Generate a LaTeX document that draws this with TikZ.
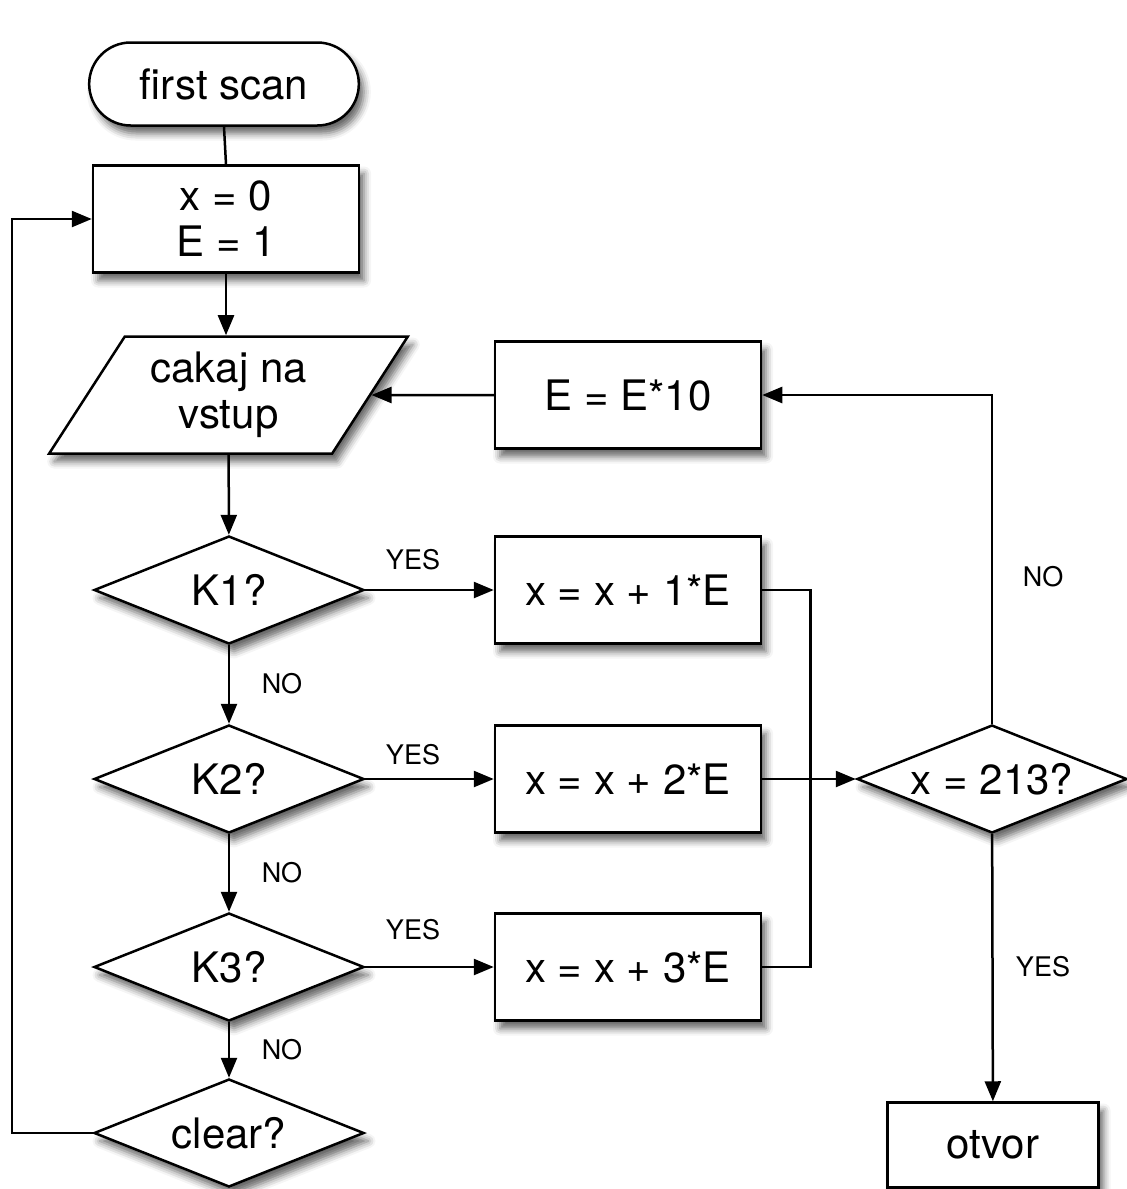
\documentclass[tikz,border=0pt]{standalone}
\usepackage{fontspec}
\setmainfont{TeX Gyre Heros}
\usetikzlibrary{shapes, shapes.geometric, shapes.misc, arrows.meta, positioning, shadows, shadows.blur, calc}

\begin{document}
\begin{tikzpicture}[x=0.5pt, y=-0.5pt,
        base/.style={draw=black, line width=1.25pt, fill=white, align=center, font=\fontsize{21}{23}\selectfont, blur shadow={shadow xshift=2.5pt, shadow yshift=-4pt, shadow blur radius=3.5pt, shadow opacity=60}},
        proc/.style={base, rectangle, minimum width=133pt, minimum height=53.5pt},
        term/.style={base, rounded rectangle, minimum width=141.5pt, minimum height=41.5pt},
        dec/.style={base, diamond, aspect=2.6, inner sep=0pt, minimum width=135pt, minimum height=54pt},
        io/.style={base, trapezium, trapezium left angle=58, trapezium right angle=122, trapezium stretches=true, minimum width=179.5pt, minimum height=58.5pt},
        flow/.style={-{Triangle[length=10pt, width=8pt]}, line width=1.25pt},
        link/.style={line width=1.25pt},
        lbl/.style={font=\fontsize{13.5}{15}\selectfont}
    ]
        \useasboundingbox (0,0) rectangle (1127,1189);

        % Left column
        \node[term] (start) at (224,84) {first scan};
        \node[proc] (init) at (226,219) {x = 0\\E = 1};
        \node[io] (input) at (228.5,395) {cakaj na\\vstup};
        \node[dec] (k1) at (229,590) {K1?};
        \node[dec] (k2) at (229,779) {K2?};
        \node[dec] (k3) at (229,967) {K3?};
        \node[dec] (clear) at (229,1133) {clear?};

        % Middle column
        \node[proc] (ebox) at (628,395) {E = E*10};
        \node[proc] (b1) at (628,590) {x = x + 1*E};
        \node[proc] (b2) at (628,779) {x = x + 2*E};
        \node[proc] (b3) at (628,967) {x = x + 3*E};

        % Right column
        \node[dec] (chk) at (992,779) {x = 213?};
        \node[proc, minimum width=105.5pt, minimum height=42.5pt] (otvor) at (993,1145) {otvor};

        % Labels
        \node[lbl] (yes1) at (413,560) {YES};
        \node[lbl] (yes2) at (413,755) {YES};
        \node[lbl] (yes3) at (413,930) {YES};
        \node[lbl] (no1) at (282,684) {NO};
        \node[lbl] (no2) at (282,873) {NO};
        \node[lbl] (no3) at (282,1050) {NO};
        \node[lbl] (no4) at (1043,577) {NO};
        \node[lbl] (yes4) at (1043,967) {YES};

        % Main flow
        \draw[link] (start.south) -- (init.north);
        \draw[flow] (init.south) -- (init.south |- input.north);
        \draw[flow] (input) -- (k1);
        \draw[flow] (k1) -- (k2);
        \draw[flow] (k2) -- (k3);
        \draw[flow] (k3) -- (clear);
        \draw[flow] (clear.west) -- ++(-81,0) |- (init.west);

        % Branches
        \draw[flow] (k1) -- (b1);
        \draw[flow] (k2) -- (b2);
        \draw[flow] (k3) -- (b3);
        \draw[link] (b1.east) -- ++(48,0) |- (b3.east);
        \draw[flow] (b2) -- (chk);
        \draw[flow] (chk.north) |- (ebox.east);
        \draw[flow] (ebox) -- (input);
        \draw[flow] (chk) -- (otvor);
    \end{tikzpicture}
\end{document}
